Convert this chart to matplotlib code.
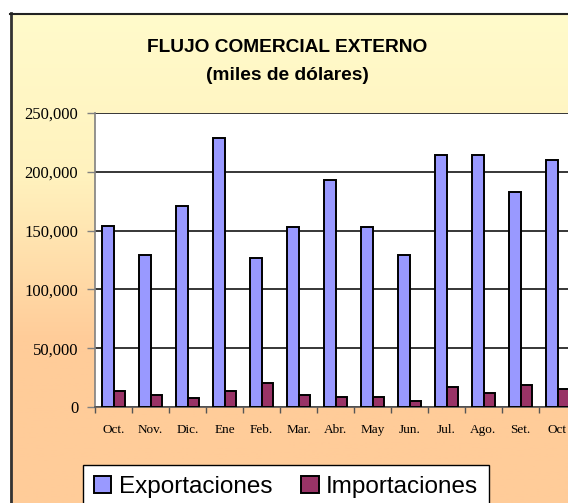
import numpy as np
import matplotlib
matplotlib.use('Agg')
import matplotlib.pyplot as plt
from matplotlib.colors import LinearSegmentedColormap
from matplotlib.ticker import FixedLocator, FuncFormatter

# ---------------------------------- data ----------------------------------
meses = ['Oct.', 'Nov.', 'Dic.', 'Ene', 'Feb.', 'Mar.', 'Abr.', 'May', 'Jun.',
         'Jul.', 'Ago.', 'Set.', 'Oct']
exportaciones = [154000, 129000, 171000, 229000, 127000, 153000, 193000,
                 153000, 129000, 214000, 214000, 183000, 210000]
importaciones = [13500, 10300, 7300, 13500, 20400, 10500, 8500,
                 8500, 5100, 17000, 12000, 18700, 15300]
y_ticks = [0, 50000, 100000, 150000, 200000, 250000]

W, H = 568, 503
fig = plt.figure(figsize=(W / 100, H / 100), dpi=100)
fig.patch.set_facecolor('white')

# chart area background (gradient yellow -> peach), starts at (10, 13) px
bg = fig.add_axes([10 / W, 0, 1 - 10 / W, 1 - 13 / H])
bg.set_axis_off()
cmap = LinearSegmentedColormap.from_list('bg', ['#FFFBCB', '#FFF2BE', '#FFCC99', '#FFCC99'],
                                         N=256)
grad = np.linspace(0, 1, 256).reshape(-1, 1)
bg.imshow(grad, aspect='auto', cmap=cmap, extent=[0, 1, 0, 1], origin='upper')
bg.set_xlim(0, 1)
bg.set_ylim(0, 1)
# frame border (left and top visible)
bg.plot([0.002, 0.002], [0, 1], color='#333333', lw=2.0, transform=bg.transAxes, clip_on=False)
bg.plot([0, 1], [0.998, 0.998], color='#222222', lw=1.5, transform=bg.transAxes, clip_on=False)

# titles
fig.text(287 / W, 1 - 48 / H, 'FLUJO COMERCIAL EXTERNO', ha='center', va='center',
         fontsize=13.8, fontweight='bold', family='Liberation Sans')
fig.text(287 / W, 1 - 76 / H, '(miles de dólares)', ha='center', va='center',
         fontsize=13.8, fontweight='bold', family='Liberation Sans')

# plot area
left, right, top, bottom = 95, 576, 113, 407
ax = fig.add_axes([left / W, 1 - bottom / H, (right - left) / W, (bottom - top) / H])
ax.set_facecolor('white')

x = np.arange(len(meses))
w = 0.3
ax.bar(x - w / 2, exportaciones, width=w, color='#9999FF', edgecolor='black',
       linewidth=1.4, label='Exportaciones', zorder=3)
ax.bar(x + w / 2, importaciones, width=w, color='#993366', edgecolor='black',
       linewidth=1.4, label='Importaciones', zorder=3)

ax.set_xlim(-0.5, len(meses) - 0.5)
ax.set_ylim(0, 250000)

# gridlines
ax.set_yticks(y_ticks)
ax.yaxis.set_major_formatter(FuncFormatter(lambda v, p: f'{int(v):,}'))
ax.grid(axis='y', color='black', linewidth=1.1, zorder=0)
ax.tick_params(axis='y', direction='out', length=6, width=1, color='#808080', pad=6,
               labelsize=12)
for lab in ax.get_yticklabels():
    lab.set_family('Liberation Serif')

# x ticks: marks at category boundaries, labels at centers
ax.set_xticks(x)
ax.set_xticklabels(meses, family='Liberation Serif', fontsize=9.5)
ax.tick_params(axis='x', which='major', length=0, pad=12)
ax.xaxis.set_minor_locator(FixedLocator(np.arange(-0.5, len(meses), 1.0)))
ax.tick_params(axis='x', which='minor', direction='out', length=4, width=1, color='#555555')

ax.spines['top'].set_visible(False)
ax.spines['right'].set_visible(False)
ax.spines['left'].set_color('#808080')
ax.spines['left'].set_linewidth(1.2)
ax.spines['bottom'].set_color('#555555')
ax.spines['bottom'].set_linewidth(1.2)

# legend
leg = fig.legend(loc='upper left', bbox_to_anchor=(83 / W, 1 - 465 / H), ncol=2,
                 frameon=True, fancybox=False, borderaxespad=0,
                 handlelength=0.72, handleheight=0.72, handletextpad=0.3,
                 columnspacing=1.2, borderpad=0.45,
                 prop={'family': 'Liberation Sans', 'size': 17.5})
leg.get_frame().set_edgecolor('black')
leg.get_frame().set_linewidth(1.0)
leg.get_frame().set_facecolor('white')
leg.get_frame().set_alpha(1)

fig.savefig('out.png', dpi=100)
